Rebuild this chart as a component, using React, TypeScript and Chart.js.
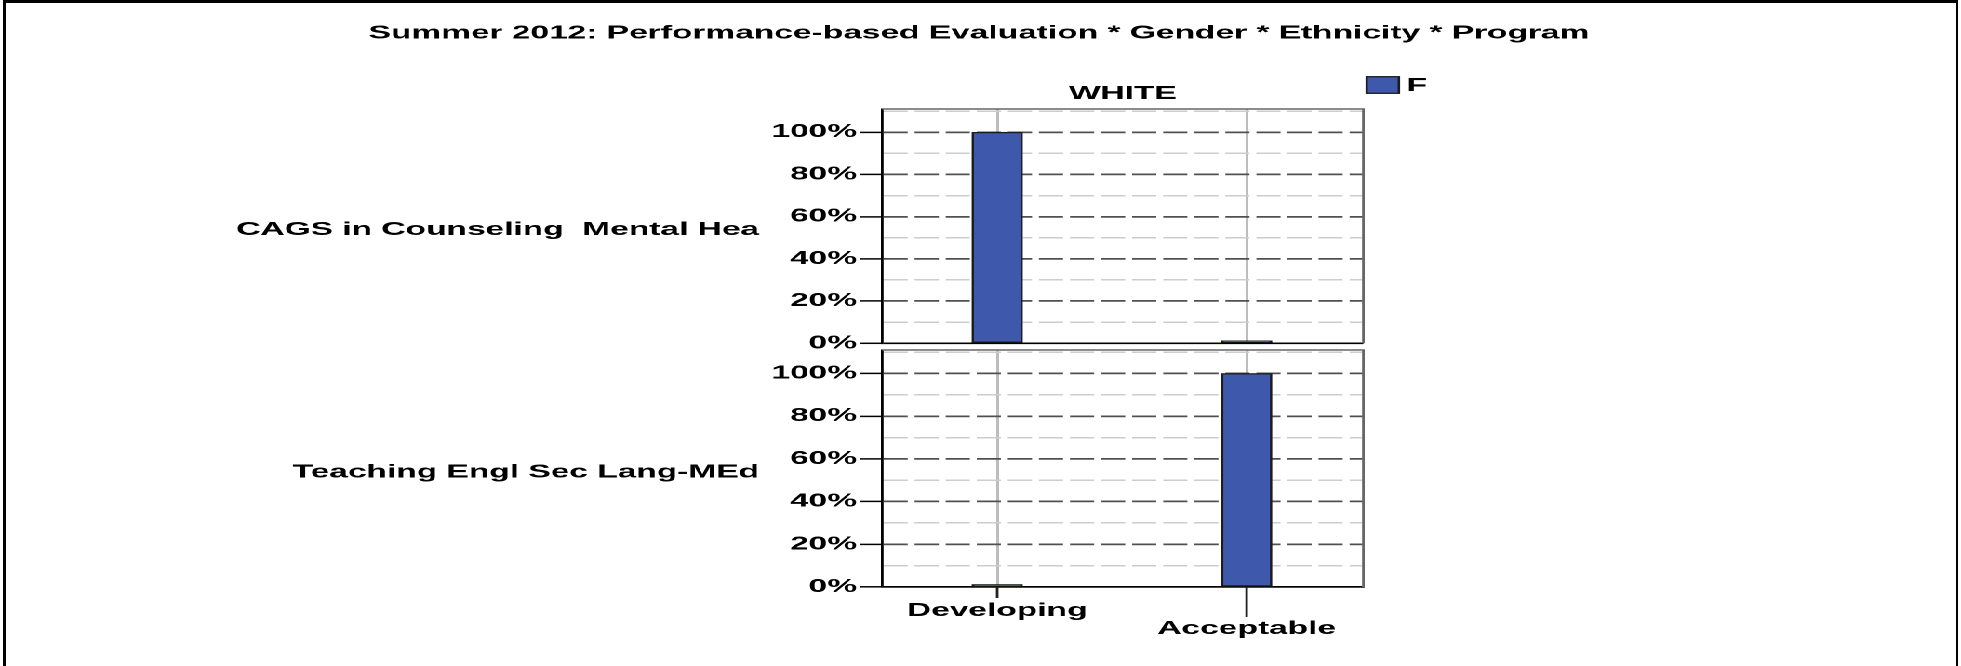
import React, { useEffect, useRef } from 'react';
import { Chart, registerables } from 'chart.js';

Chart.register(...registerables);

// ---------- data ----------
const chartTitle = 'Summer 2012: Performance-based Evaluation * Gender * Ethnicity * Program';
const columnTitle = 'WHITE';
const seriesLabel = 'F';
const categories = ['Developing', 'Acceptable'];
const programs = ['CAGS in Counseling  Mental Hea', 'Teaching Engl Sec Lang-MEd'];
const cagsValues = [100, 0];
const teslValues = [0, 100];
const majorTicks = [0, 20, 40, 60, 80, 100];

// ---------- geometry (unstretched canvas units) ----------
const PAGE_W = 1961;
const PAGE_H = 666;
const BASE_W = 1054;
const STRETCH = PAGE_W / BASE_W;
const FONT_FAMILY = "'Liberation Sans', Arial, Helvetica, sans-serif";
const BAR_COLOR = '#3e58ac';

const font18 = { family: FONT_FAMILY, size: 18, weight: 'bold' as const, lineHeight: 1 };

const panelFrame = {
  id: 'panelFrame',
  afterDraw(chart: any) {
    const { ctx, chartArea: a } = chart;
    ctx.save();
    ctx.strokeStyle = '#666';
    ctx.lineWidth = 1.4;
    ctx.beginPath();
    ctx.moveTo(a.left, a.top);
    ctx.lineTo(a.right, a.top);
    ctx.lineTo(a.right, a.bottom);
    ctx.stroke();
    ctx.restore();
  },
};

const legendBox = {
  id: 'legendBox',
  afterDraw(chart: any, _args: any, opts: any) {
    if (!opts || !opts.show) return;
    const { ctx, chartArea } = chart;
    chart.data.datasets.forEach((ds: any, i: number) => {
      const x = chartArea.right + opts.dx;
      const y = chartArea.top + opts.dy + i * 24;
      ctx.save();
      ctx.fillStyle = ds.backgroundColor;
      ctx.strokeStyle = ds.borderColor;
      ctx.lineWidth = 1.3;
      ctx.fillRect(x, y, opts.boxW, opts.boxH);
      ctx.strokeRect(x, y, opts.boxW, opts.boxH);
      ctx.fillStyle = '#000';
      ctx.font = `bold 18px ${FONT_FAMILY}`;
      ctx.textBaseline = 'middle';
      ctx.textAlign = 'left';
      ctx.fillText(ds.label, x + opts.boxW + 4.2, y + opts.boxH / 2 + 1);
      ctx.restore();
    });
  },
};

const staggerTicks = {
  id: 'staggerTicks',
  afterDraw(chart: any, _args: any, opts: any) {
    if (!opts || !opts.show) return;
    const xs = chart.scales.x;
    const { ctx } = chart;
    ctx.save();
    ctx.strokeStyle = '#222';
    ctx.lineWidth = 1.4;
    xs.ticks.forEach((t: any, i: number) => {
      const px = xs.getPixelForValue(t.value);
      ctx.beginPath();
      ctx.moveTo(px, xs.top);
      ctx.lineTo(px, xs.top + (i % 2 ? opts.long : opts.short));
      ctx.stroke();
    });
    ctx.restore();
  },
};

function makeConfig(panel: 'top' | 'bottom'): any {
  const isTop = panel === 'top';
  const values = isTop ? cagsValues : teslValues;
  const program = isTop ? programs[0] : programs[1];
  return {
    type: 'bar',
    data: {
      datasets: [
        {
          label: seriesLabel,
          data: categories.map((_, i) => ({ x: i, y: values[i] })),
          backgroundColor: BAR_COLOR,
          borderColor: '#1c1c1c',
          borderWidth: 1.3,
          borderSkipped: false,
          barThickness: 27,
          minBarLength: 2.5,
          xAxisID: 'x',
          yAxisID: 'y',
        },
      ],
    },
    options: {
      responsive: false,
      animation: false,
      devicePixelRatio: 2,
      events: [],
      layout: {
        padding: isTop
          ? { left: 0, right: 1.6, top: 24.5, bottom: 16.7 }
          : { left: 0, right: 1.6, top: 20, bottom: 13 },
      },
      plugins: {
        legend: { display: false },
        tooltip: { enabled: false },
        title: isTop
          ? {
              display: true,
              text: chartTitle,
              color: '#000',
              font: font18,
              padding: { top: 0, bottom: 38.5 },
            }
          : { display: false },
        legendBox: isTop ? { show: true, dx: 1.8, dy: -32.3, boxW: 17.3, boxH: 16.6 } : { show: false },
        staggerTicks: isTop ? { show: false } : { show: true, short: 11, long: 30 },
      },
      scales: {
        x: {
          type: 'linear',
          position: isTop ? 'top' : 'bottom',
          min: -0.461,
          max: 1.468,
          offset: false,
          afterBuildTicks: (s: any) => {
            s.ticks = categories.map((_, i) => ({ value: i }));
          },
          ticks: {
            display: !isTop,
            autoSkip: false,
            maxRotation: 0,
            minRotation: 0,
            padding: 15,
            color: '#000',
            font: font18,
            callback: (v: number, i: number) => (i % 2 === 1 ? ['', categories[v]] : categories[v]),
          },
          grid: { color: '#bdbdbd', lineWidth: 1.5, drawTicks: false, offset: false },
          border: { display: !isTop, color: '#000', width: 1.6 },
          title: isTop
            ? { display: true, text: columnTitle, color: '#000', font: font18, padding: { top: 4, bottom: 6 } }
            : { display: false },
        },
        y: {
          type: 'linear',
          position: 'left',
          weight: 0,
          min: 0,
          max: 111,
          ticks: {
            stepSize: 10,
            includeBounds: false,
            autoSkip: false,
            padding: 1.6,
            color: '#000',
            font: font18,
            callback: (v: number) => (majorTicks.includes(v) ? `${v}%` : ''),
          },
          grid: {
            drawTicks: true,
            tickLength: 12,
            tickWidth: 1.5,
            color: (c: any) => {
              const v = c.tick ? c.tick.value : 0;
              if (v === 0) return '#000';
              return majorTicks.includes(v) ? '#505050' : '#cdcdcd';
            },
            lineWidth: (c: any) => {
              const v = c.tick ? c.tick.value : 0;
              if (v === 0) return 1.6;
              return majorTicks.includes(v) ? 1.8 : 1.5;
            },
            tickColor: (c: any) => {
              const v = c.tick ? c.tick.value : 0;
              return majorTicks.includes(v) ? '#000' : 'rgba(0,0,0,0)';
            },
          },
          border: {
            display: true,
            color: '#000',
            width: 1.4,
            dash: (c: any) => (c.tick && c.tick.value !== 0 ? [13, 3.7] : []),
          },
          afterFit: (s: any) => {
            s.width = 60;
          },
        },
        yRow: {
          type: 'category',
          position: 'left',
          weight: 10,
          labels: [program],
          offset: true,
          grid: { display: false, drawTicks: false },
          border: { display: false },
          ticks: { autoSkip: false, padding: 6.2, labelOffset: 4, color: '#000', font: font18 },
          afterFit: (s: any) => {
            s.width = 414.2;
          },
        },
        yPad: {
          type: 'linear',
          position: 'right',
          display: true,
          grid: { display: false, drawTicks: false },
          border: { display: false },
          ticks: { display: false },
          afterFit: (s: any) => {
            s.width = 319.6;
          },
        },
      },
    },
    plugins: [panelFrame, legendBox, staggerTicks],
  };
}

export default function App() {
  const topRef = useRef<HTMLCanvasElement | null>(null);
  const bottomRef = useRef<HTMLCanvasElement | null>(null);

  useEffect(() => {
    if (!topRef.current || !bottomRef.current) return;
    const top = new Chart(topRef.current, makeConfig('top'));
    const bottom = new Chart(bottomRef.current, makeConfig('bottom'));
    return () => {
      top.destroy();
      bottom.destroy();
    };
  }, []);

  return (
    <div
      style={{
        position: 'absolute',
        left: 0,
        top: 0,
        width: PAGE_W,
        height: PAGE_H,
        overflow: 'hidden',
        background: '#fff',
      }}
    >
      <div
        style={{
          position: 'absolute',
          left: 3,
          top: 0,
          width: 1958 - 3,
          height: PAGE_H + 10,
          boxSizing: 'border-box',
          borderLeft: '3px solid #000',
          borderTop: '3px solid #000',
          borderRight: '2px solid #000',
        }}
      />
      <div
        style={{
          position: 'absolute',
          left: 0,
          top: 0,
          width: BASE_W,
          height: PAGE_H,
          transform: `scaleX(${STRETCH})`,
          transformOrigin: '0 0',
        }}
      >
        <canvas
          ref={topRef}
          width={BASE_W}
          height={360}
          style={{ position: 'absolute', left: 0, top: 0, width: BASE_W, height: 360 }}
        />
        <canvas
          ref={bottomRef}
          width={BASE_W}
          height={336}
          style={{ position: 'absolute', left: 0, top: 330, width: BASE_W, height: 336 }}
        />
      </div>
    </div>
  );
}
